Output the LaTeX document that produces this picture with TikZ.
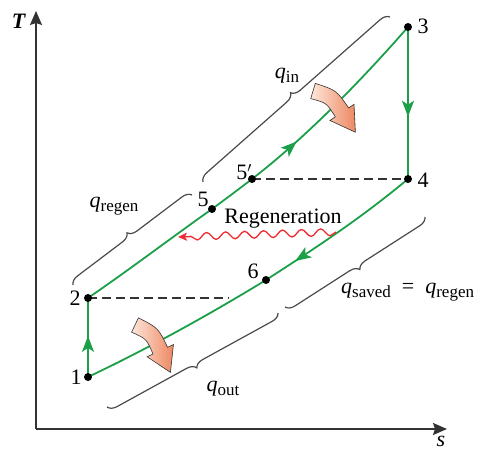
\documentclass[tikz,border=0pt]{standalone}
\usepackage{fontspec}
\setmainfont{Liberation Serif}
\usetikzlibrary{arrows.meta,decorations.pathreplacing,decorations.pathmorphing,decorations.markings}
\definecolor{cyclec}{HTML}{1BA049}
\definecolor{axisc}{HTML}{333333}
\definecolor{bracec}{HTML}{4A4A4A}
\definecolor{regc}{HTML}{EE2B2E}
\definecolor{heatlo}{HTML}{FDE6DA}
\definecolor{heathi}{HTML}{EE8862}
\newcommand{\qsub}[1]{\textit{q}\raisebox{-0.35ex}{\fontsize{17}{18}\selectfont #1}}
\tikzset{
  axis/.style={draw=axisc,line width=1.6pt,-{Stealth[length=14pt,width=12pt,inset=2pt]}},
  proc/.style={cyclec,line width=1.8pt},
  midarrow/.style={postaction={decorate},decoration={markings,mark=at position #1 with {\arrow{Stealth[length=16pt,width=12pt,inset=4pt]}}}},
  isoline/.style={draw=axisc,line width=1.4pt,dash pattern=on 9pt off 5pt},
  brc/.style={draw=bracec,line width=1.2pt,decorate,decoration={brace,amplitude=9pt}},
  regen/.style={regc,line width=1.3pt,decorate,decoration={snake,amplitude=3.6pt,segment length=19pt,post length=6pt},-{Stealth[length=9pt,width=8pt,inset=2pt]}},
  lbl/.style={font=\fontsize{22}{24}\selectfont,inner sep=1pt},
  heat/.pic={\draw[draw=axisc,line width=0.6pt,left color=heatlo,right color=heathi]
    (-2.9,-7.4) .. controls (18,-15) .. (38.5,-8.6) -- (40.5,-14.8) -- (58.8,6.4)
    -- (31.5,12.8) -- (33.5,6.6) .. controls (18,1) .. (2.9,7.4) -- cycle;},
}
\begin{document}
\begin{tikzpicture}[x=1pt,y=-1pt]
  \useasboundingbox (0,0) rectangle (477,452);
  % axes
  \coordinate (O) at (36,429);
  \coordinate (Tend) at (36,11);
  \coordinate (send) at (447,429);
  \draw[axis] (O) -- (Tend);
  \draw[axis] (O) -- (send);
  \node[lbl] (Tl) at (19,21) {\textbf{\textit{T}}};
  \node[lbl] (sl) at (441,441) {\textit{s}};
  % states
  \coordinate (s1) at (88,377);
  \coordinate (s2) at (88,298);
  \coordinate (s3) at (408,27);
  \coordinate (s4) at (408,179);
  \coordinate (s5) at (212,209);
  \coordinate (s5p) at (252,179);
  \coordinate (s6) at (266,280);
  \coordinate (d2) at (229,298);
  \coordinate (r4) at (336,232);
  \coordinate (r2) at (178,237);
  \draw[isoline] (s2) -- (d2);
  \draw[isoline] (s5p) -- (s4);
  \draw[proc,midarrow=0.52] (s1) -- (s2);
  \draw[proc,midarrow=0.62] (s2) .. controls (129,270) and (171,238) .. (s5)
    .. controls (225,199.5) and (239,189) .. (s5p)
    .. controls (304,139) and (360,82) .. (s3);
  \draw[proc,midarrow=0.59] (s3) -- (s4);
  \draw[proc,midarrow=0.37] (s4) .. controls (360,219) and (314,249) .. (s6)
    .. controls (207,316) and (147,349) .. (s1);
  \foreach \p in {s1,s2,s3,s4,s5,s5p,s6} \fill (\p) circle (4pt);
  \node[lbl] (l1) at (76,377) {1};
  \node[lbl] (l2) at (75,298) {2};
  \node[lbl] (l3) at (423,26) {3};
  \node[lbl] (l4) at (423,180) {4};
  \node[lbl] (l5) at (203,199) {5};
  \node[lbl] (l5p) at (244,172) {5$'$};
  \node[lbl] (l6) at (253,271) {6};
  % regeneration
  \draw[regen] (r4) -- (r2);
  \node[lbl] (rg) at (283,219) {Regeneration};
  % heat transfers
  \coordinate (bin1) at (203,182);
  \coordinate (bin2) at (390,17);
  \coordinate (brg1) at (73,285);
  \coordinate (brg2) at (192,195);
  \coordinate (bout1) at (278,313);
  \coordinate (bout2) at (107,407);
  \coordinate (bsv1) at (425,217);
  \coordinate (bsv2) at (285,307);
  \draw[brc] (bin1) -- (bin2);
  \draw[brc] (brg1) -- (brg2);
  \draw[brc] (bout1) -- (bout2);
  \draw[brc] (bsv1) -- (bsv2);
  \node[lbl] (qin) at (287,76) {\qsub{in}};
  \node[lbl] (qrg) at (114,206) {\qsub{regen}};
  \node[lbl] (qout) at (223,389) {\qsub{out}};
  \node[lbl,anchor=west] (qsv) at (340,292) {\qsub{saved}\enspace=\enspace\qsub{regen}};
  \pic[rotate=-38] at (313,91) {heat};
  \pic[rotate=-47] at (135,325) {heat};
\end{tikzpicture}
\end{document}
